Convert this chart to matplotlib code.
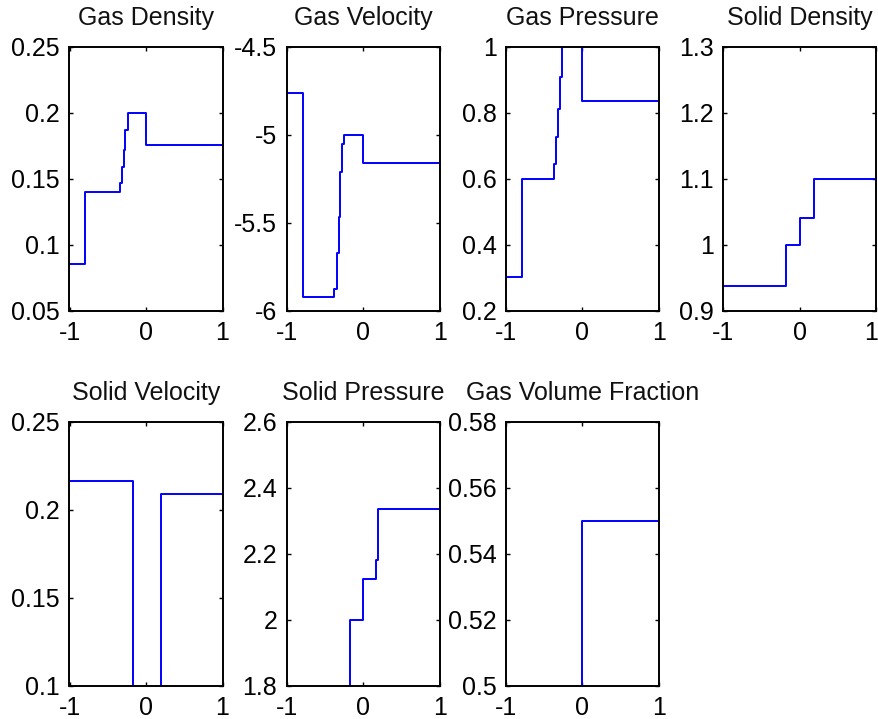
import matplotlib
matplotlib.use("Agg")
import matplotlib.pyplot as plt
from matplotlib.ticker import FormatStrFormatter, FixedLocator
from matplotlib.transforms import ScaledTranslation

plt.rcParams['font.family'] = ['Liberation Sans', 'DejaVu Sans']

# Piecewise-constant profiles: each x list holds the left edge of every cell,
# the final entry closes the last cell at x = 1.
x_gas_density = [-1, -0.8, -0.34, -0.314, -0.288, -0.268, -0.24, 0, 1]
gas_density = [0.0855, 0.14, 0.147, 0.159, 0.172, 0.187, 0.2, 0.1757, 0.1757]

x_gas_velocity = [-1, -0.79, -0.376, -0.346, -0.32, -0.298, -0.276, -0.246, 0, 1]
gas_velocity = [-4.765, -5.92, -5.878, -5.674, -5.466, -5.21, -5.053, -5.0, -5.163, -5.163]

x_gas_pressure = [-1, -0.795, -0.369, -0.342, -0.316, -0.29, -0.264, 0, 1]
gas_pressure = [0.302, 0.6, 0.645, 0.727, 0.81, 0.907, 1.05, 0.836, 0.836]

x_solid_density = [-1, -0.179, 0, 0.192, 1]
solid_density = [0.937, 1.0, 1.04, 1.1, 1.1]

x_solid_velocity = [-1, -0.176, 0.198, 1]
solid_velocity = [0.2165, 0.05, 0.209, 0.209]

x_solid_pressure = [-1, -0.172, 0, 0.169, 0.195, 1]
solid_pressure = [1.7, 2.0, 2.124, 2.18, 2.335, 2.335]

x_gas_fraction = [-1, 0, 1]
gas_fraction = [0.45, 0.55, 0.55]

titles = ["Gas Density", "Gas Velocity", "Gas Pressure", "Solid Density",
          "Solid Velocity", "Solid Pressure", "Gas Volume Fraction"]
xs = [x_gas_density, x_gas_velocity, x_gas_pressure, x_solid_density,
      x_solid_velocity, x_solid_pressure, x_gas_fraction]
ys = [gas_density, gas_velocity, gas_pressure, solid_density,
      solid_velocity, solid_pressure, gas_fraction]
yticks = [
    [0.05, 0.1, 0.15, 0.2, 0.25],
    [-6, -5.5, -5, -4.5],
    [0.2, 0.4, 0.6, 0.8, 1],
    [0.9, 1, 1.1, 1.2, 1.3],
    [0.1, 0.15, 0.2, 0.25],
    [1.8, 2, 2.2, 2.4, 2.6],
    [0.5, 0.52, 0.54, 0.56, 0.58],
]
xticks = [-1, 0, 1]

W, H = 879, 719
fig = plt.figure(figsize=(W / 100, H / 100), dpi=100)

col_left = [69.5, 286.7, 506.0, 723.3]
row_top = [46.7, 421.7]
ax_w, ax_h = 153.0, 264.0

for i in range(7):
    r, c = divmod(i, 4)
    left = col_left[c] / W
    bottom = 1 - (row_top[r] + ax_h) / H
    ax = fig.add_axes([left, bottom, ax_w / W, ax_h / H])
    ax.plot(xs[i], ys[i], drawstyle='steps-post', color='#0000ff', lw=1.4)
    ax.set_xlim(-1, 1)
    ax.set_ylim(yticks[i][0], yticks[i][-1])
    ax.xaxis.set_major_locator(FixedLocator(xticks))
    ax.yaxis.set_major_locator(FixedLocator(yticks[i]))
    ax.xaxis.set_major_formatter(FormatStrFormatter('%g'))
    ax.yaxis.set_major_formatter(FormatStrFormatter('%g'))
    ax.tick_params(direction='in', top=True, right=True, length=3, width=1,
                   labelsize=18, colors='black')
    ax.tick_params(axis='y', pad=6.8)
    ax.tick_params(axis='x', pad=7.5)
    for s in ax.spines.values():
        s.set_linewidth(1.4)
        s.set_color('black')
    ax.set_title(titles[i], fontsize=18, pad=15.6, color='#111111')
    if c == 3:
        # keep the rightmost tick label inside the figure edge
        fig.canvas.draw()
        lab = ax.get_xticklabels()[-1]
        lab.set_transform(lab.get_transform()
                          + ScaledTranslation(-5 / 100, 0, fig.dpi_scale_trans))

fig.savefig("out.png", dpi=100)
